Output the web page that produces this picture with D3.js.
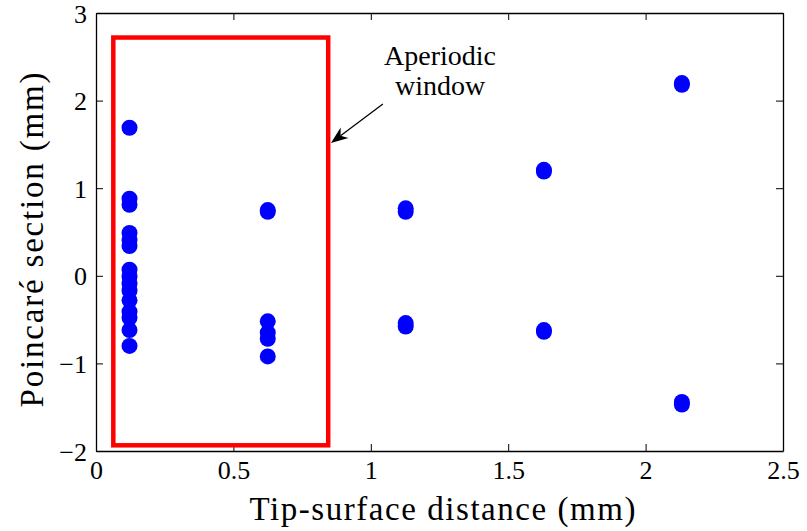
<!DOCTYPE html>
<html>
<head>
<meta charset="utf-8">
<script src="https://cdn.jsdelivr.net/npm/d3@7"></script>
<style>
  html, body { margin: 0; padding: 0; background: #fff; }
  svg { display: block; }
</style>
</head>
<body>
<svg id="chart" width="807" height="531"></svg>
<script>
// ---- data ----
const pointX = [
  0.122,0.122,0.122,0.122,0.122,0.122,0.122,0.122,0.122,0.122,0.122,0.122,0.122,0.122,0.122,
  0.625,0.625,0.625,0.625,0.625,0.625,
  1.127,1.127,1.127,1.127,
  1.63,1.63,1.63,1.63,
  2.132,2.132,2.132,2.132
];
const pointY = [
  1.69,0.88,0.81,0.49,0.41,0.34,0.07,-0.01,-0.09,-0.17,-0.28,-0.41,-0.48,-0.62,-0.80,
  0.75,0.73,-0.52,-0.65,-0.72,-0.92,
  0.77,0.73,-0.54,-0.58,
  1.21,1.19,-0.62,-0.64,
  2.20,2.18,-1.44,-1.47
];
const xTicks = [0, 0.5, 1, 1.5, 2, 2.5];
const xTickLabels = ["0", "0.5", "1", "1.5", "2", "2.5"];
const yTicks = [-2, -1, 0, 1, 2, 3];
const yTickLabels = ["\u22122", "\u22121", "0", "1", "2", "3"];
const xTitle = "Tip-surface distance (mm)";
const yTitle = "Poincaré section (mm)";
const windowBox = { x0: 0.063, x1: 0.845, y0: -1.935, y1: 2.72 };
const annotationLines = ["Aperiodic", "window"];
const arrowFrom = [1.044, 1.96];
const arrowTo = [0.855, 1.516];

// ---- layout ----
const FONT = "'Liberation Serif', 'Times New Roman', Times, serif";
const margin = { left: 96, right: 24, top: 13, bottom: 80 };
const W = 807, H = 531;
const svg = d3.select("#chart");

const x = d3.scaleLinear().domain([0, 2.5]).range([margin.left, W - margin.right]);
const y = d3.scaleLinear().domain([-2, 3]).range([H - margin.bottom, margin.top]);

const tickLen = 7;

// axes
const gB = svg.append("g").attr("transform", `translate(0,${y(-2)})`)
  .call(d3.axisBottom(x).tickValues(xTicks).tickFormat((d, i) => xTickLabels[i])
    .tickSizeInner(-tickLen).tickSizeOuter(0).tickPadding(10));
const gT = svg.append("g").attr("transform", `translate(0,${y(3)})`)
  .call(d3.axisTop(x).tickValues(xTicks).tickFormat("")
    .tickSizeInner(-tickLen).tickSizeOuter(0));
const gL = svg.append("g").attr("transform", `translate(${x(0)},0)`)
  .call(d3.axisLeft(y).tickValues(yTicks).tickFormat((d, i) => yTickLabels[i])
    .tickSizeInner(-tickLen).tickSizeOuter(0).tickPadding(9));
const gR = svg.append("g").attr("transform", `translate(${x(2.5)},0)`)
  .call(d3.axisRight(y).tickValues(yTicks).tickFormat("")
    .tickSizeInner(-tickLen).tickSizeOuter(0));

[gB, gT, gL, gR].forEach(g => {
  g.attr("font-family", null).attr("font-size", null);
  g.selectAll("path.domain").attr("stroke", "#000").attr("stroke-width", 1.3);
  g.selectAll(".tick line").attr("stroke", "#000").attr("stroke-width", 1);
  g.selectAll("text").style("font-family", FONT).style("font-size", "26px").attr("fill", "#000");
});
gB.selectAll(".tick text").attr("dy", "0.71em").attr("y", 10);
gL.selectAll(".tick text").attr("dy", "0.35em");

// window rectangle
svg.append("rect")
  .attr("x", x(windowBox.x0))
  .attr("y", y(windowBox.y1))
  .attr("width", x(windowBox.x1) - x(windowBox.x0))
  .attr("height", y(windowBox.y0) - y(windowBox.y1))
  .attr("fill", "none").attr("stroke", "#ff0000").attr("stroke-width", 4.5);

// points
svg.append("g").selectAll("circle")
  .data(pointX.map((v, i) => [v, pointY[i]]))
  .join("circle")
  .attr("cx", d => x(d[0]))
  .attr("cy", d => y(d[1]))
  .attr("r", 8)
  .attr("fill", "#0000ff");

// annotation text
const annX = x(1.252);
svg.append("text").attr("x", annX).attr("y", 65).attr("text-anchor", "middle")
  .style("font-family", FONT).style("font-size", "28px").text(annotationLines[0]);
svg.append("text").attr("x", annX).attr("y", 95).attr("text-anchor", "middle")
  .style("font-family", FONT).style("font-size", "28px").text(annotationLines[1]);

// arrow
const x1 = x(arrowFrom[0]), y1 = y(arrowFrom[1]);
const x2 = x(arrowTo[0]), y2 = y(arrowTo[1]);
const ang = Math.atan2(y2 - y1, x2 - x1);
const headLen = 17, headW = 6.5, notch = 12;
const ux = Math.cos(ang), uy = Math.sin(ang);
const px = -uy, py = ux;
const bx = x2 - ux * headLen, by = y2 - uy * headLen;
const nx = x2 - ux * notch, ny = y2 - uy * notch;
svg.append("line").attr("x1", x1).attr("y1", y1).attr("x2", nx).attr("y2", ny)
  .attr("stroke", "#000").attr("stroke-width", 1.3);
svg.append("path")
  .attr("d", `M${x2},${y2} L${bx + px * headW},${by + py * headW} L${nx},${ny} L${bx - px * headW},${by - py * headW} Z`)
  .attr("fill", "#000");

// axis titles
svg.append("text").attr("x", (x(0) + x(2.5)) / 2 + 3).attr("y", 520)
  .attr("text-anchor", "middle").style("font-family", FONT).style("font-size", "33px")
  .attr("textLength", 386).attr("lengthAdjust", "spacing")
  .text(xTitle);
svg.append("text").attr("transform", `translate(43,${(y(-2) + y(3)) / 2 + 8}) rotate(-90)`)
  .attr("text-anchor", "middle").style("font-family", FONT).style("font-size", "33px")
  .attr("textLength", 335).attr("lengthAdjust", "spacing")
  .text(yTitle);
</script>
</body>
</html>
